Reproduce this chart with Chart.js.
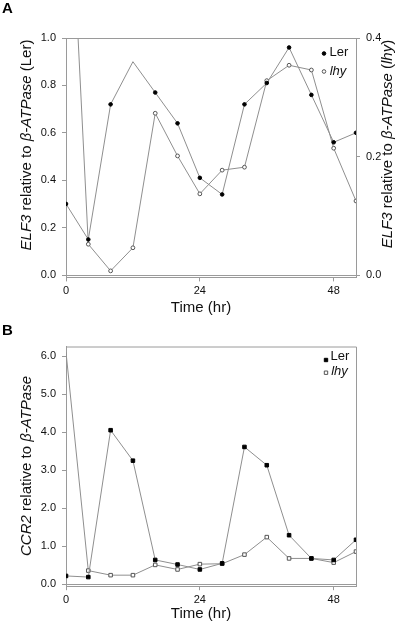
<!DOCTYPE html>
<html>
<head>
<meta charset="utf-8">
<script src="https://cdn.jsdelivr.net/npm/chart.js@4/dist/chart.umd.min.js"></script>
<style>
  body { margin: 0; background: #fff; }
  .panel { position: absolute; left: 0; }
</style>
</head>
<body>
<canvas id="chartA" class="panel" width="400" height="315" style="top:0"></canvas>
<canvas id="chartB" class="panel" width="400" height="310" style="top:315px"></canvas>
<script>
// sampling times (hr)
const hours = [0, 4, 8, 12, 16, 20, 24, 28, 32, 36, 40, 44, 48, 52];

// panel A: ELF3 relative to beta-ATPase
const elf3Ler = [0.30, 0.15, 0.72, 0.90, 0.77, 0.64, 0.41, 0.34, 0.72, 0.81, 0.96, 0.76, 0.56, 0.60];
const elf3Lhy = [0.81, 0.052, 0.007, 0.046, 0.273, 0.201, 0.137, 0.177, 0.182, 0.328, 0.354, 0.346, 0.214, 0.125];

// panel B: CCR2 relative to beta-ATPase
const ccr2Ler = [0.22, 0.19, 4.05, 3.25, 0.64, 0.52, 0.39, 0.55, 3.61, 3.13, 1.29, 0.68, 0.64, 1.17];
const ccr2Lhy = [6.1, 0.36, 0.24, 0.24, 0.51, 0.39, 0.53, 0.54, 0.78, 1.24, 0.68, 0.68, 0.57, 0.86];

// tick labels
const timeTicks = [0, 24, 48];
const elf3LerTicks = [0, 0.2, 0.4, 0.6, 0.8, 1.0];
const elf3LhyTicks = [0, 0.2, 0.4];
const ccr2Ticks = [0, 1, 2, 3, 4, 5, 6];

const FONT = '"Liberation Sans", Arial, Helvetica, sans-serif';
const LINE = '#8f8f8f';
const AXIS = '#9a9a9a';

function points(values) {
  return hours.map((h, i) => ({ x: h, y: values[i] }));
}

function setTicks(list) {
  return scale => { scale.ticks = list.map(v => ({ value: v })); };
}

// text made of plain and italic pieces, centred on (x, y)
function drawRich(ctx, parts, x, y, angle, size) {
  ctx.save();
  ctx.translate(x, y);
  ctx.rotate(angle);
  ctx.textBaseline = 'middle';
  ctx.textAlign = 'left';
  ctx.fillStyle = '#111';
  let total = 0;
  parts.forEach(p => {
    ctx.font = (p[1] ? 'italic ' : '') + size + 'px ' + FONT;
    total += ctx.measureText(p[0]).width;
  });
  let cx = -total / 2;
  parts.forEach(p => {
    ctx.font = (p[1] ? 'italic ' : '') + size + 'px ' + FONT;
    ctx.fillText(p[0], cx, 0);
    cx += ctx.measureText(p[0]).width;
  });
  ctx.restore();
}

function drawMarker(ctx, shape, filled, x, y) {
  ctx.save();
  ctx.lineWidth = 1;
  ctx.strokeStyle = filled ? '#000' : '#555';
  ctx.fillStyle = filled ? '#000' : '#fff';
  ctx.beginPath();
  if (shape === 'circle') ctx.arc(x, y, 1.8, 0, Math.PI * 2);
  else ctx.rect(x - 1.7, y - 1.7, 3.4, 3.4);
  ctx.fill();
  ctx.stroke();
  ctx.restore();
}

// frame, panel letter, axis titles and legend
const decor = {
  id: 'decor',
  afterDraw(chart, args, opts) {
    const ctx = chart.ctx;
    const a = chart.chartArea;
    ctx.save();
    ctx.strokeStyle = AXIS;
    ctx.lineWidth = 1;
    ctx.beginPath();
    ctx.moveTo(a.left, a.top + 0.5);
    ctx.lineTo(a.right + 0.5, a.top + 0.5);
    ctx.lineTo(a.right + 0.5, a.bottom);
    ctx.stroke();

    ctx.fillStyle = '#000';
    ctx.font = 'bold 15px ' + FONT;
    ctx.textBaseline = 'middle';
    ctx.fillText(opts.letter, 2, opts.letterY);
    ctx.restore();

    opts.titles.forEach(t => drawRich(ctx, t.parts, t.x, t.y, t.angle, 15));

    opts.legend.forEach(item => {
      drawMarker(ctx, item.shape, item.filled, item.mx, item.my);
      drawRich(ctx, [[item.label, item.italic]], item.tx, item.ty, 0, 13);
    });
  }
};

function lineSet(values, axis, shape, filled, radii) {
  return {
    data: points(values),
    yAxisID: axis,
    borderColor: LINE,
    borderWidth: 1,
    tension: 0,
    pointStyle: shape,
    pointRadius: radii,
    pointBackgroundColor: filled ? '#000' : '#fff',
    pointBorderColor: filled ? '#000' : '#555',
    pointBorderWidth: 1
  };
}

const tickFont = { family: FONT, size: 11 };

function xScale(h) {
  return {
    type: 'linear',
    min: 0,
    max: 52,
    afterBuildTicks: setTicks(timeTicks),
    afterFit: s => { s.height = h; },
    grid: { drawOnChartArea: false, tickLength: 4, color: AXIS },
    border: { color: AXIS },
    ticks: { color: '#111', font: tickFont, padding: 3, maxRotation: 0 }
  };
}

function yScale(pos, min, max, list, width, zeroLine) {
  return {
    type: 'linear',
    position: pos,
    min: min,
    max: max,
    afterBuildTicks: setTicks(list),
    afterFit: s => { s.width = width; },
    grid: {
      drawOnChartArea: zeroLine,
      tickLength: 4,
      color: c => (c.tick && c.tick.value === 0) ? AXIS : 'rgba(0,0,0,0)',
      tickColor: AXIS
    },
    border: { color: AXIS },
    ticks: { color: '#111', font: tickFont, padding: 6, callback: v => v.toFixed(1) }
  };
}

// panel A
new Chart(document.getElementById('chartA'), {
  type: 'line',
  data: {
    datasets: [
      lineSet(elf3Ler, 'y', 'circle', true, hours.map((h, i) => i === 3 ? 0 : 1.8)),
      lineSet(elf3Lhy, 'y2', 'circle', false, 1.9)
    ]
  },
  options: {
    responsive: false,
    animation: false,
    layout: { autoPadding: false, padding: { top: 38, left: 0, right: 0, bottom: 0 } },
    plugins: {
      legend: { display: false },
      tooltip: { enabled: false },
      decor: {
        letter: 'A',
        letterY: 9,
        titles: [
          { parts: [['ELF3', true], [' relative to ', false], ['\u03B2-ATPase', true], [' (Ler)', false]], x: 27, y: 145, angle: -Math.PI / 2 },
          { parts: [['ELF3', true], [' relative to ', false], ['\u03B2-ATPase', true], [' (', false], ['lhy', true], [')', false]], x: 388, y: 144, angle: -Math.PI / 2 },
          { parts: [['Time (hr)', false]], x: 201, y: 308, angle: 0 }
        ],
        legend: [
          { shape: 'circle', filled: true, mx: 324, my: 53.5, label: 'Ler', italic: false, tx: 339, ty: 52.5 },
          { shape: 'circle', filled: false, mx: 324, my: 71.5, label: 'lhy', italic: true, tx: 338, ty: 71 }
        ]
      }
    },
    scales: {
      x: xScale(315 - 277.4),
      y: yScale('left', -0.01, 1.0, elf3LerTicks, 66, true),
      y2: yScale('right', -0.004, 0.4, elf3LhyTicks, 44, false)
    }
  },
  plugins: [decor]
});

// panel B
new Chart(document.getElementById('chartB'), {
  type: 'line',
  data: {
    datasets: [
      lineSet(ccr2Ler, 'y', 'rect', true, 2.5),
      lineSet(ccr2Lhy, 'y', 'rect', false, hours.map((h, i) => i === 0 ? 0 : 2.5))
    ]
  },
  options: {
    responsive: false,
    animation: false,
    layout: { autoPadding: false, padding: { top: 31.5, left: 0, right: 44, bottom: 0 } },
    plugins: {
      legend: { display: false },
      tooltip: { enabled: false },
      decor: {
        letter: 'B',
        letterY: 16,
        titles: [
          { parts: [['CCR2', true], [' relative to ', false], ['\u03B2-ATPase', true]], x: 27, y: 151, angle: -Math.PI / 2 },
          { parts: [['Time (hr)', false]], x: 201, y: 299, angle: 0 }
        ],
        legend: [
          { shape: 'rect', filled: true, mx: 326, my: 45, label: 'Ler', italic: false, tx: 340, ty: 41.3 },
          { shape: 'rect', filled: false, mx: 326, my: 57.7, label: 'lhy', italic: true, tx: 339.5, ty: 56.8 }
        ]
      }
    },
    scales: {
      x: xScale(310 - 271.2),
      y: yScale('left', -0.05, 6.25, ccr2Ticks, 66, true)
    }
  },
  plugins: [decor]
});
</script>
</body>
</html>
